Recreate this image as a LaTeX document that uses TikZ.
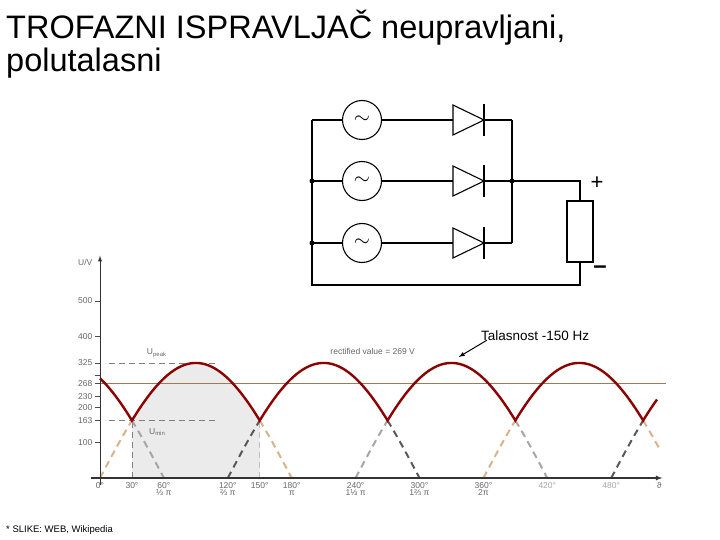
\documentclass[tikz,border=0pt]{standalone}
\usepackage{fontspec}
\setmainfont{Liberation Sans}
\usetikzlibrary{calc}
\begin{document}
\begin{tikzpicture}[x=1pt,y=1pt,
  wire/.style={line width=1.3pt},
  src/.style={circle,draw,line width=1.1pt,minimum size=39pt,inner sep=0pt,font=\fontsize{22}{22}\selectfont},
  lbl/.style={font=\fontsize{8.5}{9}\selectfont,text=black!60,inner sep=1pt},
  env/.style={line width=2.4pt,color=red!55!black},
  dashB/.style={dashed,dash pattern=on 7pt off 5pt,line width=2pt,color=brown!60!white},
  dashD/.style={dashed,dash pattern=on 7pt off 5pt,line width=2pt,color=black!65},
  dashL/.style={dashed,dash pattern=on 7pt off 5pt,line width=2pt,color=black!35},
  guide/.style={dashed,dash pattern=on 6pt off 4pt,color=black!50,line width=0.7pt}]
\useasboundingbox (0,0) rectangle (720,-540);
% title
\node[anchor=north west,align=left,font=\fontsize{32.5}{33}\selectfont,inner sep=0pt] (title) at (6,-10) {TROFAZNI ISPRAVLJAČ neupravljani,\\polutalasni};
% circuit
\coordinate (L1) at (312,-120); \coordinate (L2) at (312,-181); \coordinate (L3) at (312,-243);
\coordinate (LB) at (312,-285); \coordinate (R1) at (512,-120); \coordinate (R2) at (512,-181); \coordinate (R3) at (512,-243);
\coordinate (RT) at (580,-181); \coordinate (RB) at (580,-285);
\foreach \i/\y in {1/-120,2/-181,3/-243}{
  \node[src] (s\i) at (362,\y) {$\sim$};
  \coordinate (da\i) at (453,\y); \coordinate (dk\i) at (484,\y);
  \draw[wire,line width=1.1pt] (453,\y+15) -- (484,\y) -- (453,\y-15) -- cycle;
  \draw[wire,line width=1.1pt] (484,\y+16) -- (484,\y-16);
  \draw[wire] (L\i) -- (s\i) (s\i) -- (da\i) (dk\i) -- (R\i);
}
\draw[wire] (L1) -- (LB) -- (RB) -- (580,-262);
\draw[wire] (R1) -- (R3);
\draw[wire] (R2) -- (RT) -- (580,-201);
\node[draw,line width=1.1pt,minimum width=26pt,minimum height=61pt,inner sep=0pt] (res) at (580,-231.5) {};
\foreach \p in {L2,L3,R2} \fill (\p) circle (2.5pt);
\node[font=\fontsize{22}{22}\selectfont] (plus) at (597,-183) {+};
\node[font=\fontsize{24}{24}\selectfont] (minus) at (600,-270) {\textbf{--}};
% graph
\begin{scope}[shift={(100,-478)},xscale=1.065,yscale=0.354]
  \fill[black!8] (30,0) -- plot[domain=30:150,samples=61] (\x,{325*sin(\x)}) -- (150,0) -- cycle;
  \draw[guide] (8,325) -- (110,325);
  \draw[guide] (8,163) -- (110,163);
  \draw[guide] (30,0) -- (30,163);
  \draw[guide,color=black!25] (150,0) -- (150,163);
  \draw[color=brown!70!black!80,line width=0.8pt] (0,268) -- (531,268);
  % dashed phase parts
  \draw[dashB] plot[domain=0:30,samples=10] (\x,{325*sin(\x)});
  \draw[dashB] plot[domain=150:180,samples=10] (\x,{325*sin(\x)});
  \draw[dashB] plot[domain=360:390,samples=10] (\x,{325*sin(\x)});
  \draw[dashB] plot[domain=510:525,samples=6] (\x,{325*sin(\x)});
  \draw[dashL] plot[domain=30:60,samples=10] (\x,{325*sin(\x+120)});
  \draw[dashL] plot[domain=240:270,samples=10] (\x,{325*sin(\x+120)});
  \draw[dashL] plot[domain=390:420,samples=10] (\x,{325*sin(\x+120)});
  \draw[dashD] plot[domain=120:150,samples=10] (\x,{325*sin(\x-120)});
  \draw[dashD] plot[domain=270:300,samples=10] (\x,{325*sin(\x-120)});
  \draw[dashD] plot[domain=480:510,samples=10] (\x,{325*sin(\x-120)});
  % envelope
  \draw[env,line join=miter] plot[domain=0:523,samples=524] (\x,{325*max(sin(\x),sin(\x-120),sin(\x+120))});
  % axes
  \draw[line width=1.2pt,black!80,-latex] (-8,0) -- (528,0);
  \draw[line width=1pt,black!80,-latex] (0,-20) -- (0,628);
  \foreach \v in {100,163,200,230,268,290,325,400,500} \draw[black!70] (-5,\v) -- (0,\v);
  \foreach \v in {100,163,200,230,268,325,400,500} \node[lbl,anchor=east] (y\v) at (-6,\v) {\v};
  \node[lbl,anchor=east] (yU) at (-6,610) {U/V};
  \foreach \a/\t/\b in {0/0°/,30/30°/,60/60°/⅓ π,120/120°/⅔ π,150/150°/,180/180°/π,240/240°/1⅓ π,300/300°/1⅔ π,360/360°/2π}
    \node[lbl,align=center,anchor=north] (x\a) at (\a,-10) {\t\\[-2pt]\b};
  \node[lbl,anchor=north,text=black!35] (x420) at (420,-10) {420°};
  \node[lbl,anchor=north,text=black!35] (x480) at (480,-10) {480°};
  \node[lbl,anchor=north] (xt) at (525,-10) {ϑ};
  \node[lbl,anchor=west] (upk) at (43,352) {U\textsubscript{peak}};
  \node[lbl,anchor=west] (umn) at (45,130) {U\textsubscript{min}};
  \node[lbl] (rv) at (256,357) {rectified value = 269 V};
  \coordinate (pk) at (335,325);
\end{scope}
\node[font=\fontsize{13.5}{15}\selectfont,anchor=west,inner sep=1pt] (tal) at (480,-336) {Talasnost -150 Hz};
\draw[line width=1pt,-latex] ($(tal.south west)+(7,2)$) -- ($(pk)+(2,6)$);
\node[font=\fontsize{9.5}{10}\selectfont,anchor=west,inner sep=0pt] (foot) at (6,-530) {* SLIKE: WEB, Wikipedia};
\end{tikzpicture}
\end{document}
